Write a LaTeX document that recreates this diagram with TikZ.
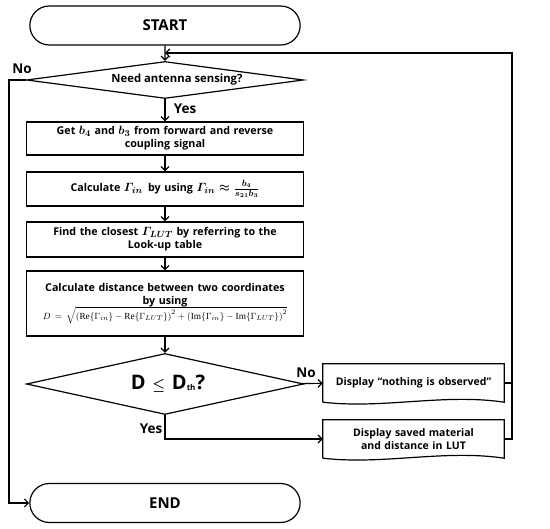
\documentclass[tikz,border=0pt]{standalone}
\usepackage{amsmath,amssymb}
\usepackage{fontspec}
\setmainfont{Liberation Serif}
\setsansfont{Open Sans}
\usetikzlibrary{arrows.meta,shapes.geometric,shapes.misc,positioning,calc}

\newcommand{\flowmath}[1]{{\fontsize{12.5}{13}\selectfont$\boldsymbol{#1}$}}

\tikzset{
  flowline/.style={line width=1.2pt,-{Straight Barb[length=4pt,width=8pt,line width=1.2pt]}},
  plainline/.style={line width=1.2pt},
  procbox/.style={draw, line width=1.2pt, minimum width=277pt, text width=272pt, align=center,
    inner sep=1pt, font=\sffamily\bfseries\fontsize{10.7}{13}\selectfont},
  termbox/.style={draw, rounded rectangle, line width=1.2pt, minimum width=277pt, minimum height=39pt,
    font=\sffamily\bfseries\fontsize{15}{18}\selectfont},
  decbox/.style={draw, diamond, line width=1.2pt, minimum width=277pt, inner sep=0pt},
  docbox/.style={minimum width=181pt, minimum height=38pt, text width=178pt, align=center,
    inner sep=1pt, font=\sffamily\bfseries\fontsize{10.5}{13}\selectfont},
  lbl/.style={font=\sffamily\bfseries\fontsize{13.5}{15}\selectfont, inner sep=0pt}
}

\begin{document}
\begin{tikzpicture}[x=1pt,y=-1pt]
\useasboundingbox (0,0) rectangle (550,529);
% Terminators
\node[termbox] (start) at (165,25.5) {START};
\node[termbox] (end) at (165,503) {END};
% Decisions
\node[decbox, shape aspect=7.5, minimum height=37pt, font=\sffamily\bfseries\fontsize{11.3}{13}\selectfont] (need) at (165,80) {\hspace*{24pt}Need antenna sensing?};
\node[decbox, shape aspect=4.5, minimum height=61pt, font=\sffamily\bfseries\fontsize{20}{22}\selectfont] (dcheck) at (165,384)
  {\hspace*{6pt}D\,\,{\fontsize{15}{15}\selectfont$\boldsymbol{\le}$}\,\,D\raisebox{-1pt}{\fontsize{8}{8}\selectfont th}?};
% Process steps
\node[procbox, minimum height=33pt] (getb) at (165,138.5)
  {Get \flowmath{b_4} and \flowmath{b_3} from forward and reverse\\ coupling signal};
\node[procbox, minimum height=34pt] (gamma) at (165,189)
  {Calculate \flowmath{\varGamma_{in}}\, by using \flowmath{\varGamma_{in}\approx\frac{b_4}{s_{21}b_3}}};
\node[procbox, minimum height=35pt] (lut) at (165,239.5)
  {Find the closest \flowmath{\varGamma_{LUT}} by referring to the\\ Look-up table};
\node[procbox, minimum height=65pt] (dist) at (165,303.5)
  {Calculate distance between two coordinates\\ by using\\[-1pt]
   {\fontsize{9.3}{10}\selectfont\mdseries $D=\sqrt{\left(\mathrm{Re}\{\Gamma_{in}\}-\mathrm{Re}\{\Gamma_{LUT}\}\right)^2+\left(\mathrm{Im}\{\Gamma_{in}\}-\mathrm{Im}\{\Gamma_{LUT}\}\right)^2}$}};
% Display outputs (document shapes)
\node[docbox] (nothing) at (413.5,383) {Display \char"201C nothing is observed\char"201D};
\node[docbox] (saved) at (413.5,439) {Display saved material\\ and distance in LUT};
\foreach \d in {nothing,saved} {
  \draw[plainline] (\d.south west) -- (\d.north west) -- (\d.north east) -- (\d.south east)
    .. controls +(-60,-9) and +(60,7) .. (\d.south west);
}
% Connectors
\coordinate (rail) at (512,53);
\coordinate (loopin) at (165,53);
\draw[flowline] (start) -- (need);
\draw[flowline] (need) -- (getb);
\draw[flowline] (getb) -- (gamma);
\draw[flowline] (gamma) -- (lut);
\draw[flowline] (lut) -- (dist);
\draw[flowline] (dist) -- (dcheck);
\draw[flowline] (dcheck) -- (nothing);
\draw[flowline] (dcheck.south) |- (saved.west);
\draw[flowline] (need.west) -- ++(-17,0) |- (end.west);
\draw[flowline] (saved.east) -| (rail) -- (loopin);
\draw[plainline] (nothing.east) -- (nothing.east -| rail);
% Labels
\node[lbl] (yes1) at (185,109) {Yes};
\node[lbl] (no1) at (22,69) {No};
\node[lbl] (no2) at (306,373) {No};
\node[lbl] (yes2) at (151,429) {Yes};
\end{tikzpicture}
\end{document}
